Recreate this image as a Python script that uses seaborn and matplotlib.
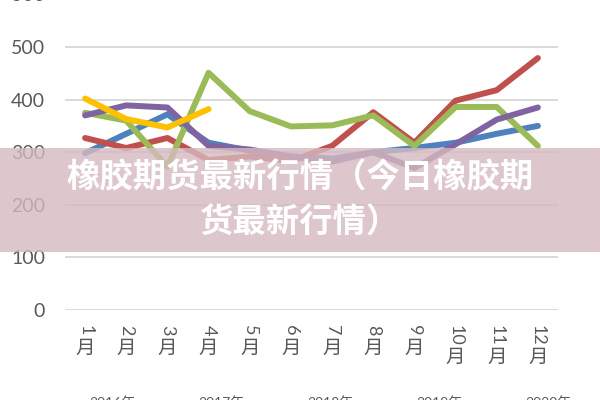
import pandas as pd
import matplotlib
matplotlib.use("Agg")
import matplotlib.pyplot as plt
import matplotlib.transforms as mtransforms
from matplotlib.patches import Rectangle
import seaborn as sns

# ---------------- DATA ----------------
months = ["1", "2", "3", "4", "5", "6", "7", "8", "9", "10", "11", "12"]
years = ["2016年", "2017年", "2018年", "2019年", "2020年"]

v2016 = [298, 335, 372, 318, 303, 292, 288, 300, 308, 318, 335, 350]
v2017 = [327, 308, 327, 285, 292, 283, 312, 376, 318, 398, 418, 479]
v2018 = [375, 360, 272, 451, 378, 349, 351, 370, 312, 386, 386, 312]
v2019 = [370, 389, 385, 312, 305, 292, 282, 300, 270, 315, 362, 385]
v2020 = [402, 363, 347, 382]

colors = ["#4F81BD", "#C0504D", "#9BBB59", "#8064A2", "#FFC000"]

title_1 = "橡胶期货最新行情（今日橡胶期"
title_2 = "货最新行情）"

rows = []
for year, vals in zip(years, [v2016, v2017, v2018, v2019, v2020]):
    for i, v in enumerate(vals):
        rows.append({"month": i, "year": year, "price": v})
df = pd.DataFrame(rows)

# ---------------- STYLE ----------------
sns.set_style("white")
plt.rcParams["font.family"] = ["Lato", "Noto Sans CJK SC", "DejaVu Sans"]

fig = plt.figure(figsize=(6, 4), dpi=100)
ax = fig.add_axes([0.1075, 0.225, 0.8233, 0.789])

sns.lineplot(
    data=df, x="month", y="price", hue="year",
    palette=colors, linewidth=4.3, ax=ax, legend=False,
    solid_capstyle="round", solid_joinstyle="round",
)

ax.set_xlim(-0.5, 11.5)
ax.set_ylim(0, 600)
ax.set_yticks(range(0, 601, 100))
ax.yaxis.grid(True, color="#D9D9D9", linewidth=1.4)
ax.set_axisbelow(True)
for s in ax.spines.values():
    s.set_visible(False)
ax.tick_params(axis="y", length=0, pad=14, labelsize=14, labelcolor="#595959")
ax.set_xticks(range(12))
ax.set_xticklabels([])
ax.tick_params(axis="x", length=0)
ax.set_xlabel("")
ax.set_ylabel("")

# vertical month labels: digits turned, 月 upright
trans = mtransforms.blended_transform_factory(ax.transData, fig.transFigure)
for i, m in enumerate(months):
    ax.text(i, 1 - 325 / 400, m, transform=trans, rotation=-90,
            ha="center", va="top", fontsize=13, color="#595959",
            family="Lato")
    y_m = 1 - (338 if len(m) == 1 else 347) / 400
    ax.text(i, y_m, "月", transform=trans, ha="center", va="top",
            fontsize=14, color="#595959", family="Noto Sans CJK SC")

# legend, mostly cut off at the bottom
handles = [plt.Line2D([], [], color=c, linewidth=4.3, alpha=0.35) for c in colors]
fig.legend(handles, years, loc="center left", bbox_to_anchor=(0.047, -0.006),
           ncol=5, frameon=False, fontsize=10, handlelength=3.6,
           handletextpad=0.8, columnspacing=0.12, borderaxespad=0,
           borderpad=0, labelcolor="#595959")

# overlay band with title
fig.add_artist(Rectangle((0, 0.37), 1, 0.26, transform=fig.transFigure,
                         facecolor=(214 / 255, 186 / 255, 192 / 255),
                         alpha=0.8, edgecolor="none", zorder=5))
fig.text(0.5, 0.555, title_1, ha="center", va="center", fontsize=24,
         color="white", weight="black", family="Noto Sans CJK SC", zorder=6)
fig.text(0.5, 0.4425, title_2, ha="center", va="center", fontsize=24,
         color="white", weight="black", family="Noto Sans CJK SC", zorder=6)

fig.savefig("out.png", dpi=100)
